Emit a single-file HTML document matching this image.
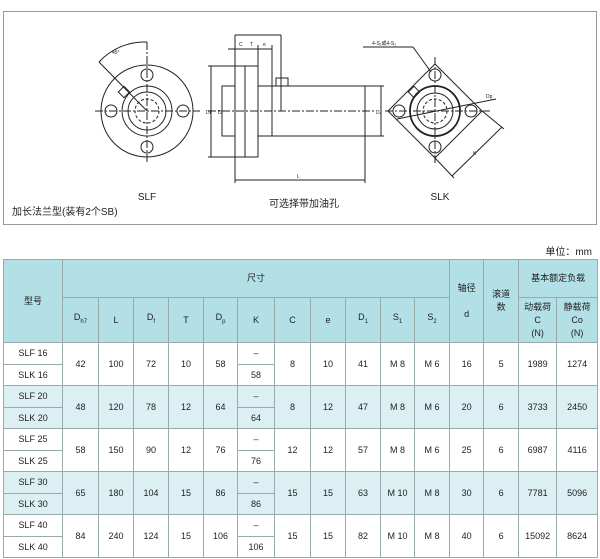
<!DOCTYPE html>
<html><head><meta charset="utf-8"><style>
body{margin:0;width:600px;height:559px;background:#fff;font-family:"Liberation Sans","Noto Sans CJK SC",sans-serif;position:relative;overflow:hidden}
svg{position:absolute;left:0;top:0}
.unit{position:absolute;right:8px;top:243px;font-size:10px;color:#222}
table{position:absolute;left:3px;top:259px;border-collapse:collapse;table-layout:fixed;width:594px;font-size:9px;color:#222}
td{border:1px solid #9aa;text-align:center;vertical-align:middle;padding:0;line-height:13px}
.h td{background:#b3dfe6}
.b td{background:#dceff3}
sub{font-size:6px}
</style></head><body>
<svg width="600" height="240" viewBox="0 0 600 240" fill="none" stroke="#222" stroke-width="1">
<rect x="3.5" y="11.5" width="593" height="213" stroke="#999"/>
<!-- SLF -->
<circle cx="147" cy="111" r="46"/>
<circle cx="147" cy="111" r="25"/>
<circle cx="147" cy="111" r="19"/>
<circle cx="147" cy="111" r="12" stroke-dasharray="3 2"/>
<circle cx="147" cy="75" r="6"/><circle cx="147" cy="147" r="6"/><circle cx="111" cy="111" r="6"/><circle cx="183" cy="111" r="6"/>
<line x1="95" y1="111" x2="200" y2="111" stroke-dasharray="8 2 2 2"/>
<line x1="147" y1="42" x2="147" y2="162" stroke-dasharray="8 2 2 2"/>
<line x1="99" y1="62" x2="147" y2="111"/>
<path d="M99 62 A62 62 0 0 1 147 42"/>
<rect x="120" y="88" width="8" height="8" transform="rotate(45 124 92)"/>
<!-- side view -->
<rect x="235" y="66" width="23" height="91"/>
<line x1="245" y1="66" x2="245" y2="157"/>
<rect x="222" y="86" width="13" height="50"/>
<rect x="258" y="86" width="107" height="50"/>
<line x1="272" y1="86" x2="272" y2="136"/>
<rect x="276" y="78" width="12" height="8"/>
<line x1="281" y1="35" x2="281" y2="111"/>
<line x1="208" y1="111" x2="375" y2="111" stroke-dasharray="8 2 2 2"/>
<line x1="235" y1="35" x2="235" y2="183"/><line x1="235" y1="35" x2="281" y2="35"/>
<line x1="228" y1="49" x2="272" y2="49"/>
<line x1="258" y1="45" x2="258" y2="66"/><line x1="272" y1="45" x2="272" y2="86"/>
<line x1="365" y1="136" x2="365" y2="183"/><line x1="235" y1="180" x2="365" y2="180"/>
<line x1="211" y1="66" x2="211" y2="157"/><line x1="208" y1="66" x2="235" y2="66"/><line x1="208" y1="157" x2="235" y2="157"/>
<line x1="222" y1="86" x2="222" y2="136"/>
<line x1="381" y1="86" x2="381" y2="136"/><line x1="365" y1="86" x2="384" y2="86"/><line x1="365" y1="136" x2="384" y2="136"/>
<!-- SLK -->
<path d="M435 64 L482 111 L435 158 L388 111 Z" stroke-linejoin="round"/>
<circle cx="435" cy="111" r="25" stroke-width="1.8"/>
<circle cx="435" cy="111" r="18"/>
<circle cx="435" cy="111" r="12" stroke-dasharray="3 2"/>
<circle cx="435" cy="75" r="6"/><circle cx="435" cy="147" r="6"/><circle cx="399" cy="111" r="6"/><circle cx="471" cy="111" r="6"/>
<line x1="385" y1="111" x2="490" y2="111" stroke-dasharray="8 2 2 2"/>
<line x1="435" y1="57" x2="435" y2="165" stroke-dasharray="8 2 2 2"/>
<rect x="410" y="88" width="8" height="8" transform="rotate(45 414 92)"/>
<line x1="363" y1="47" x2="413" y2="47"/><line x1="413" y1="47" x2="431" y2="72"/>
<line x1="397" y1="119" x2="496" y2="99"/>
<line x1="482" y1="111" x2="504" y2="129"/><line x1="435" y1="158" x2="454" y2="178"/>
<line x1="502" y1="127" x2="452" y2="176"/>
<g fill="#222" stroke="none" font-size="5">
<text x="239" y="46">C</text><text x="250" y="46">T</text><text x="263" y="46">e</text>
<text x="297" y="178">L</text><text x="206" y="114">Df</text><text x="218" y="114">D</text><text x="376" y="114">D₁</text>
<text x="372" y="45">4-S₁或4-S₂</text><text x="486" y="98">Dp</text><text x="473" y="155">K</text><text x="112" y="54">45°</text>
</g>
<g fill="#222" stroke="none" font-size="10">
<text x="147" y="200" text-anchor="middle">SLF</text>
<text x="304" y="207" text-anchor="middle">可选择带加油孔</text>
<text x="440" y="200" text-anchor="middle">SLK</text>
<text x="12" y="215">加长法兰型(装有2个SB)</text>
</g>
</svg>
<div class="unit">单位：mm</div>
<table>
<colgroup><col style="width:59px"><col style="width:36px"><col style="width:35px"><col style="width:35px"><col style="width:35px"><col style="width:34px"><col style="width:37px"><col style="width:36px"><col style="width:35px"><col style="width:35px"><col style="width:34px"><col style="width:35px"><col style="width:34px"><col style="width:35px"><col style="width:38px"><col style="width:41px"></colgroup>
<tr class="h" style="height:38px"><td rowspan="2">型号</td><td colspan="11">尺寸</td><td rowspan="2">轴径<br><br>d</td><td rowspan="2">滚道<br>数</td><td colspan="2">基本额定负载</td></tr>
<tr class="h" style="height:45px"><td>D<sub>h7</sub></td><td>L</td><td>D<sub>f</sub></td><td>T</td><td>D<sub>p</sub></td><td>K</td><td>C</td><td>e</td><td>D<sub>1</sub></td><td>S<sub>1</sub></td><td>S<sub>2</sub></td><td>动载荷<br>C<br>(N)</td><td>静载荷<br>Co<br>(N)</td></tr>
<tr style="height:22px"><td>SLF 16</td><td rowspan="2">42</td><td rowspan="2">100</td><td rowspan="2">72</td><td rowspan="2">10</td><td rowspan="2">58</td><td>–</td><td rowspan="2">8</td><td rowspan="2">10</td><td rowspan="2">41</td><td rowspan="2">M 8</td><td rowspan="2">M 6</td><td rowspan="2">16</td><td rowspan="2">5</td><td rowspan="2">1989</td><td rowspan="2">1274</td></tr>
<tr style="height:21px"><td>SLK 16</td><td>58</td></tr>
<tr class="b" style="height:22px"><td>SLF 20</td><td rowspan="2">48</td><td rowspan="2">120</td><td rowspan="2">78</td><td rowspan="2">12</td><td rowspan="2">64</td><td>–</td><td rowspan="2">8</td><td rowspan="2">12</td><td rowspan="2">47</td><td rowspan="2">M 8</td><td rowspan="2">M 6</td><td rowspan="2">20</td><td rowspan="2">6</td><td rowspan="2">3733</td><td rowspan="2">2450</td></tr>
<tr class="b" style="height:21px"><td>SLK 20</td><td>64</td></tr>
<tr style="height:22px"><td>SLF 25</td><td rowspan="2">58</td><td rowspan="2">150</td><td rowspan="2">90</td><td rowspan="2">12</td><td rowspan="2">76</td><td>–</td><td rowspan="2">12</td><td rowspan="2">12</td><td rowspan="2">57</td><td rowspan="2">M 8</td><td rowspan="2">M 6</td><td rowspan="2">25</td><td rowspan="2">6</td><td rowspan="2">6987</td><td rowspan="2">4116</td></tr>
<tr style="height:21px"><td>SLK 25</td><td>76</td></tr>
<tr class="b" style="height:22px"><td>SLF 30</td><td rowspan="2">65</td><td rowspan="2">180</td><td rowspan="2">104</td><td rowspan="2">15</td><td rowspan="2">86</td><td>–</td><td rowspan="2">15</td><td rowspan="2">15</td><td rowspan="2">63</td><td rowspan="2">M 10</td><td rowspan="2">M 8</td><td rowspan="2">30</td><td rowspan="2">6</td><td rowspan="2">7781</td><td rowspan="2">5096</td></tr>
<tr class="b" style="height:21px"><td>SLK 30</td><td>86</td></tr>
<tr style="height:22px"><td>SLF 40</td><td rowspan="2">84</td><td rowspan="2">240</td><td rowspan="2">124</td><td rowspan="2">15</td><td rowspan="2">106</td><td>–</td><td rowspan="2">15</td><td rowspan="2">15</td><td rowspan="2">82</td><td rowspan="2">M 10</td><td rowspan="2">M 8</td><td rowspan="2">40</td><td rowspan="2">6</td><td rowspan="2">15092</td><td rowspan="2">8624</td></tr>
<tr style="height:21px"><td>SLK 40</td><td>106</td></tr>
</table>
</body></html>
